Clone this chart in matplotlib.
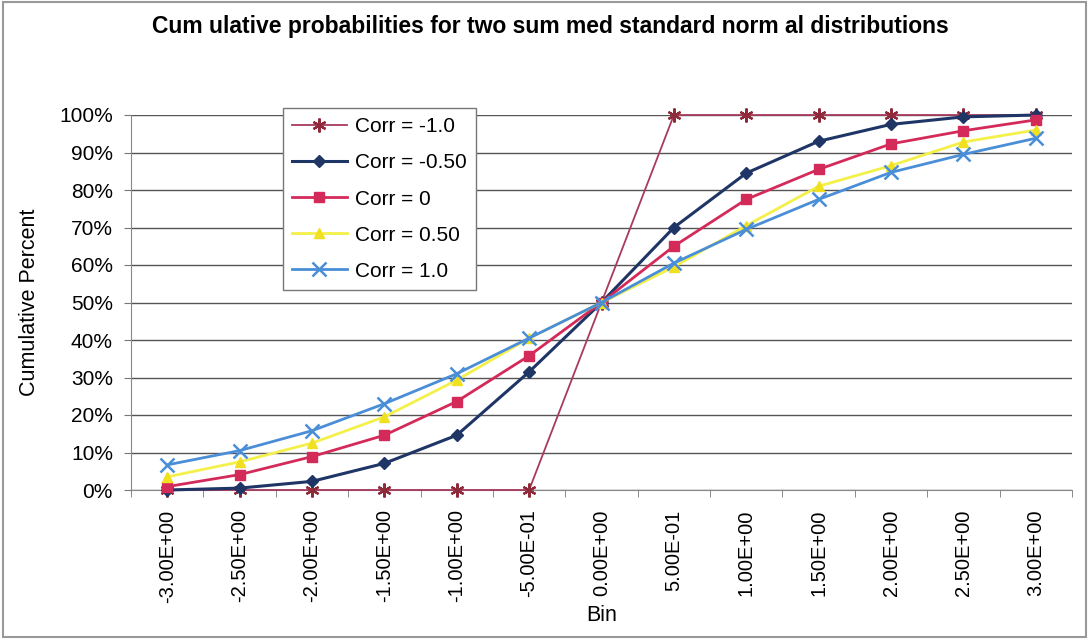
import matplotlib.pyplot as plt
import numpy as np
from matplotlib.patches import Rectangle

plt.rcParams["font.family"] = ["Liberation Sans", "DejaVu Sans"]

# Data
bins = [-3.0, -2.5, -2.0, -1.5, -1.0, -0.5, 0.0, 0.5, 1.0, 1.5, 2.0, 2.5, 3.0]
corr_m1 = [0.0, 0.0, 0.0, 0.0, 0.0, 0.0, 0.50, 1.0, 1.0, 1.0, 1.0, 1.0, 1.0]
corr_m05 = [0.0, 0.005, 0.023, 0.071, 0.146, 0.315, 0.50, 0.70, 0.845, 0.930, 0.975, 0.995, 1.0]
corr_0 = [0.009, 0.041, 0.089, 0.146, 0.236, 0.358, 0.50, 0.650, 0.775, 0.855, 0.923, 0.958, 0.987]
corr_05 = [0.035, 0.075, 0.125, 0.195, 0.293, 0.405, 0.50, 0.595, 0.705, 0.810, 0.865, 0.928, 0.960]
corr_1 = [0.067, 0.105, 0.158, 0.230, 0.310, 0.405, 0.50, 0.605, 0.695, 0.775, 0.847, 0.895, 0.938]

series = [
    ("Corr = -1.0", corr_m1, "#A83A5C", "#8E2A3A", "x", 1.3),
    ("Corr = -0.50", corr_m05, "#1E3566", "#1E3566", "D", 2.2),
    ("Corr = 0", corr_0, "#D42A5A", "#D42A5A", "s", 2.0),
    ("Corr = 0.50", corr_05, "#F4F04A", "#F0E020", "^", 2.0),
    ("Corr = 1.0", corr_1, "#4A8ED8", "#4A8ED8", "x", 2.0),
]

fig = plt.figure(figsize=(10.89, 6.39), dpi=100)
ax = fig.add_axes([131 / 1089, 1 - 490 / 639, (1072 - 131) / 1089, (490 - 115) / 639])

x = np.arange(len(bins))
for name, vals, lc, mc, mk, lw in series:
    if name == "Corr = -1.0":
        ax.plot(x, vals, color=lc, lw=lw, marker=(6, 2, 0), ms=10, mec=mc, mew=1.6,
                label=name, zorder=3, clip_on=False)
    elif mk == "x":
        ax.plot(x, vals, color=lc, lw=lw, marker="x", ms=10, mec=mc, mew=1.8,
                label=name, zorder=3, clip_on=False)
    else:
        ms = 6.5 if mk == "D" else 7.5
        ax.plot(x, vals, color=lc, lw=lw, marker=mk, ms=ms, mfc=mc, mec=mc,
                label=name, zorder=3, clip_on=False)

ax.set_xlim(-0.5, 12.5)
ax.set_ylim(0, 1.0)
yt = np.arange(0, 1.01, 0.1)
ax.set_yticks(yt)
ax.set_yticklabels([f"{int(round(v * 100))}%" for v in yt], fontsize=15)
ax.yaxis.grid(True, color="#555555", lw=1.0)
ax.set_axisbelow(True)
ax.set_xticks(x)
ax.set_xticklabels([f"{b:.2E}" for b in bins], rotation=90, fontsize=14.5)
ax.set_xticks(np.arange(-0.5, 12.6, 1.0), minor=True)
ax.tick_params(axis="x", which="major", length=0, pad=14)
ax.tick_params(axis="x", which="minor", length=5, color="#777777")
ax.tick_params(axis="y", length=5, color="#777777", pad=8)
for s in ["top", "right"]:
    ax.spines[s].set_visible(False)
ax.spines["left"].set_color("#888888")
ax.spines["bottom"].set_color("#888888")

ax.set_ylabel("Cumulative Percent", fontsize=15.5, labelpad=14)
ax.set_xlabel("Bin", fontsize=15.5, labelpad=2)
fig.text(0.505, 0.958, "Cum ulative probabilities for two sum med standard norm al distributions",
         ha="center", va="center", fontsize=16.5, fontweight="bold")

leg = ax.legend(loc="upper left", bbox_to_anchor=((283 - 131) / 941, (490 - 108) / 375),
                borderaxespad=0, fontsize=15, handlelength=2.6, labelspacing=0.82,
                borderpad=0.45, handletextpad=0.4, frameon=True, fancybox=False,
                framealpha=1.0, edgecolor="#777777")
leg.get_frame().set_linewidth(1.0)

fig.patches.append(Rectangle((0.003, 0.003), 0.994, 0.994, transform=fig.transFigure,
                             fill=False, edgecolor="#999999", lw=1.5))

fig.savefig("out.png", dpi=100)
